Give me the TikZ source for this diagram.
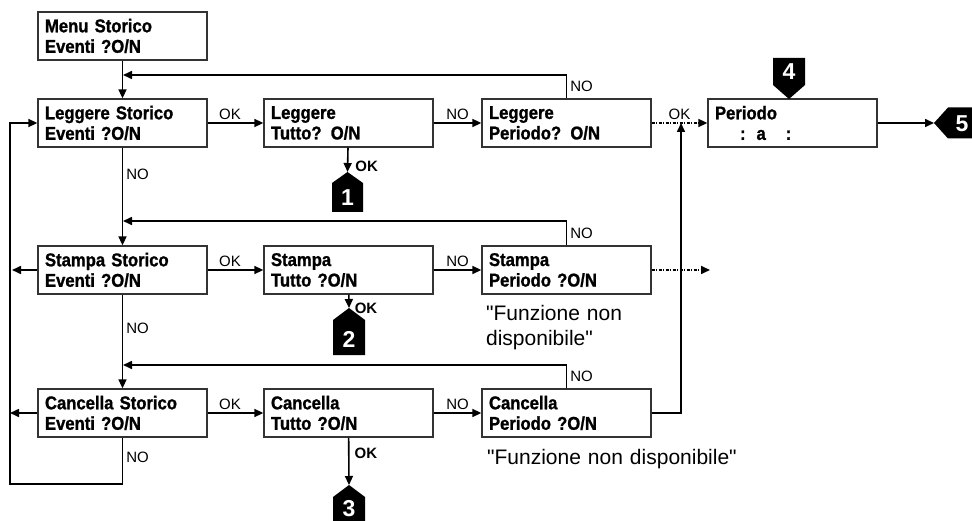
\documentclass[tikz,border=0pt]{standalone}
\usepackage{fontspec}
\setmainfont{Liberation Sans}
\newfontfamily\boxfont{Liberation Sans Bold}[FakeStretch=0.9,FakeBold=1.2]
\usetikzlibrary{arrows.meta}
\newcommand{\notefont}{\fontsize{21}{25}\selectfont\spaceskip=11pt\relax}
\newcommand{\menufont}{\boxfont\fontsize{18.5}{20.5}\selectfont\spaceskip=3.5pt\relax}

\begin{document}
\begin{tikzpicture}[x=1pt,y=-1pt,>={Triangle[length=9pt,width=8pt]}]
        \tikzstyle{menubox}=[draw=black!80,line width=1.3pt,minimum width=169pt,minimum height=48pt,inner sep=0pt,text width=155pt,align=left,font=\menufont]
        \tikzstyle{badgenum}=[text=white,inner sep=0pt,font=\bfseries\fontsize{23}{23}\selectfont]
        \tikzstyle{note}=[inner sep=0pt,text width=200pt,align=left,font=\notefont]
        \tikzstyle{lbl}=[font=\fontsize{15}{15}\selectfont,inner sep=3pt]
        \tikzstyle{lblok}=[font=\bfseries\fontsize{15}{15}\selectfont,inner sep=3pt]
        \tikzstyle{dotdash}=[dash pattern=on 3pt off 1.5pt on 1pt off 1.5pt]
        \clip (0,0) rectangle (972,521);
        \tikzset{every path/.style={line width=1.6pt}}

        % boxes
        \node[menubox] (menu) at (122.5,36) {Menu Storico\\Eventi ?O/N};
        \node[menubox] (lst) at (122.5,123) {Leggere Storico\\Eventi ?O/N};
        \node[menubox] (ltu) at (348.5,123) {Leggere\\Tutto? O/N};
        \node[menubox] (lpe) at (566.5,123) {Leggere\\Periodo? O/N};
        \node[menubox] (per) at (792.5,123) {Periodo\\\hspace*{25pt}:\hspace{11pt}a\hspace{20pt}:};
        \node[menubox] (sst) at (122.5,270) {Stampa Storico\\Eventi ?O/N};
        \node[menubox] (stu) at (348.5,270) {Stampa\\Tutto ?O/N};
        \node[menubox] (spe) at (566.5,270) {Stampa\\Periodo ?O/N};
        \node[menubox] (cst) at (122.5,413) {Cancella Storico\\Eventi ?O/N};
        \node[menubox] (ctu) at (348.5,413) {Cancella\\Tutto ?O/N};
        \node[menubox] (cpe) at (566.5,413) {Cancella\\Periodo ?O/N};

        \node[note,anchor=north west,xshift=4pt,yshift=-10pt] (nspe) at (spe.south west) {\textquotedbl Funzione non\\disponibile\textquotedbl};
        \node[note,anchor=north west,xshift=5pt,yshift=-11pt,text width=300pt] (ncpe) at (cpe.south west) {\textquotedbl Funzione non disponibile\textquotedbl};

        % badges
        \coordinate (b1tip) at (347.5,172);
        \coordinate (b2tip) at (349,308);
        \coordinate (b3tip) at (349,485);
        \coordinate (b5tip) at (934,123);
        \fill (b1tip) -- ++(15.5,11) -- ++(0,29) -- ++(-31,0) -- ++(0,-29) -- cycle;
        \fill (b2tip) -- ++(16,12) -- ++(0,35) -- ++(-32,0) -- ++(0,-35) -- cycle;
        \fill (b3tip) -- ++(16,12) -- ++(0,40) -- ++(-32,0) -- ++(0,-40) -- cycle;
        \fill (789,99) -- ++(16,-14) -- ++(0,-27) -- ++(-32,0) -- ++(0,27) -- cycle;
        \fill (b5tip) -- ++(14,-15.5) -- ++(40,0) -- ++(0,31) -- ++(-40,0) -- cycle;
        \node[badgenum] (b1) at (347.5,198) {1};
        \node[badgenum] (b2) at (349,339) {2};
        \node[badgenum] (b3) at (349,509) {3};
        \node[badgenum] (b4) at (789,72) {4};
        \node[badgenum] (b5) at (962,124) {5};

        \coordinate (j1) at (123,75);
        \coordinate (j2) at (123,221);
        \coordinate (j3) at (123,365);
        \coordinate (j4) at (681,123);
        \coordinate (c1) at (10,484);
        \coordinate (sl) at (12,270);
        \coordinate (cl) at (10,413);
        \coordinate (sd) at (710,270);

        % Leggere row
        \draw[->] (menu) -- (lst);
        \draw[->] (lpe.north) |- node[lbl,right,pos=0.25] {NO} (j1);
        \path[->] (lst) edge node[lbl,above,pos=0.4] {OK} (ltu);
        \path[->] (ltu) edge node[lbl,above] {NO} (lpe);
        \path[->,dotdash] (lpe) edge node[lbl,above] {OK} (per);
        \draw[->] (ltu) -- node[lblok,right,pos=0.76,xshift=4pt] {OK} (b1tip);
        \draw[->] (per) -- (b5tip);

        % Stampa row
        \draw[->] (lst) -- node[lbl,right,pos=0.27] {NO} (sst);
        \draw[->] (spe.north) |- node[lbl,right,pos=0.25] {NO} (j2);
        \draw[->] (sst) -- (sl);
        \path[->] (sst) edge node[lbl,above,pos=0.4] {OK} (stu);
        \path[->] (stu) edge node[lbl,above] {NO} (spe);
        \path[->,dotdash] (spe) edge (sd);
        \draw[->] (stu) -- node[lblok,right,pos=1,xshift=2pt] {OK} (b2tip);

        % Cancella row
        \draw[->] (sst) -- node[lbl,right,pos=0.36] {NO} (cst);
        \draw[->] (cpe.north) |- node[lbl,right,pos=0.25] {NO} (j3);
        \draw[->] (cst) -- (cl);
        \path[->] (cst) edge node[lbl,above,pos=0.4] {OK} (ctu);
        \path[->] (ctu) edge node[lbl,above] {NO} (cpe);
        \draw[->] (ctu) -- node[lblok,right,pos=0.33,xshift=2pt] {OK} (b3tip);
        \draw[->] (cst.south) |- node[lbl,right,pos=0.21] {NO} (c1) |- (lst.west);
        \draw[->] (cpe.east) -| (j4);
    \end{tikzpicture}
\end{document}
